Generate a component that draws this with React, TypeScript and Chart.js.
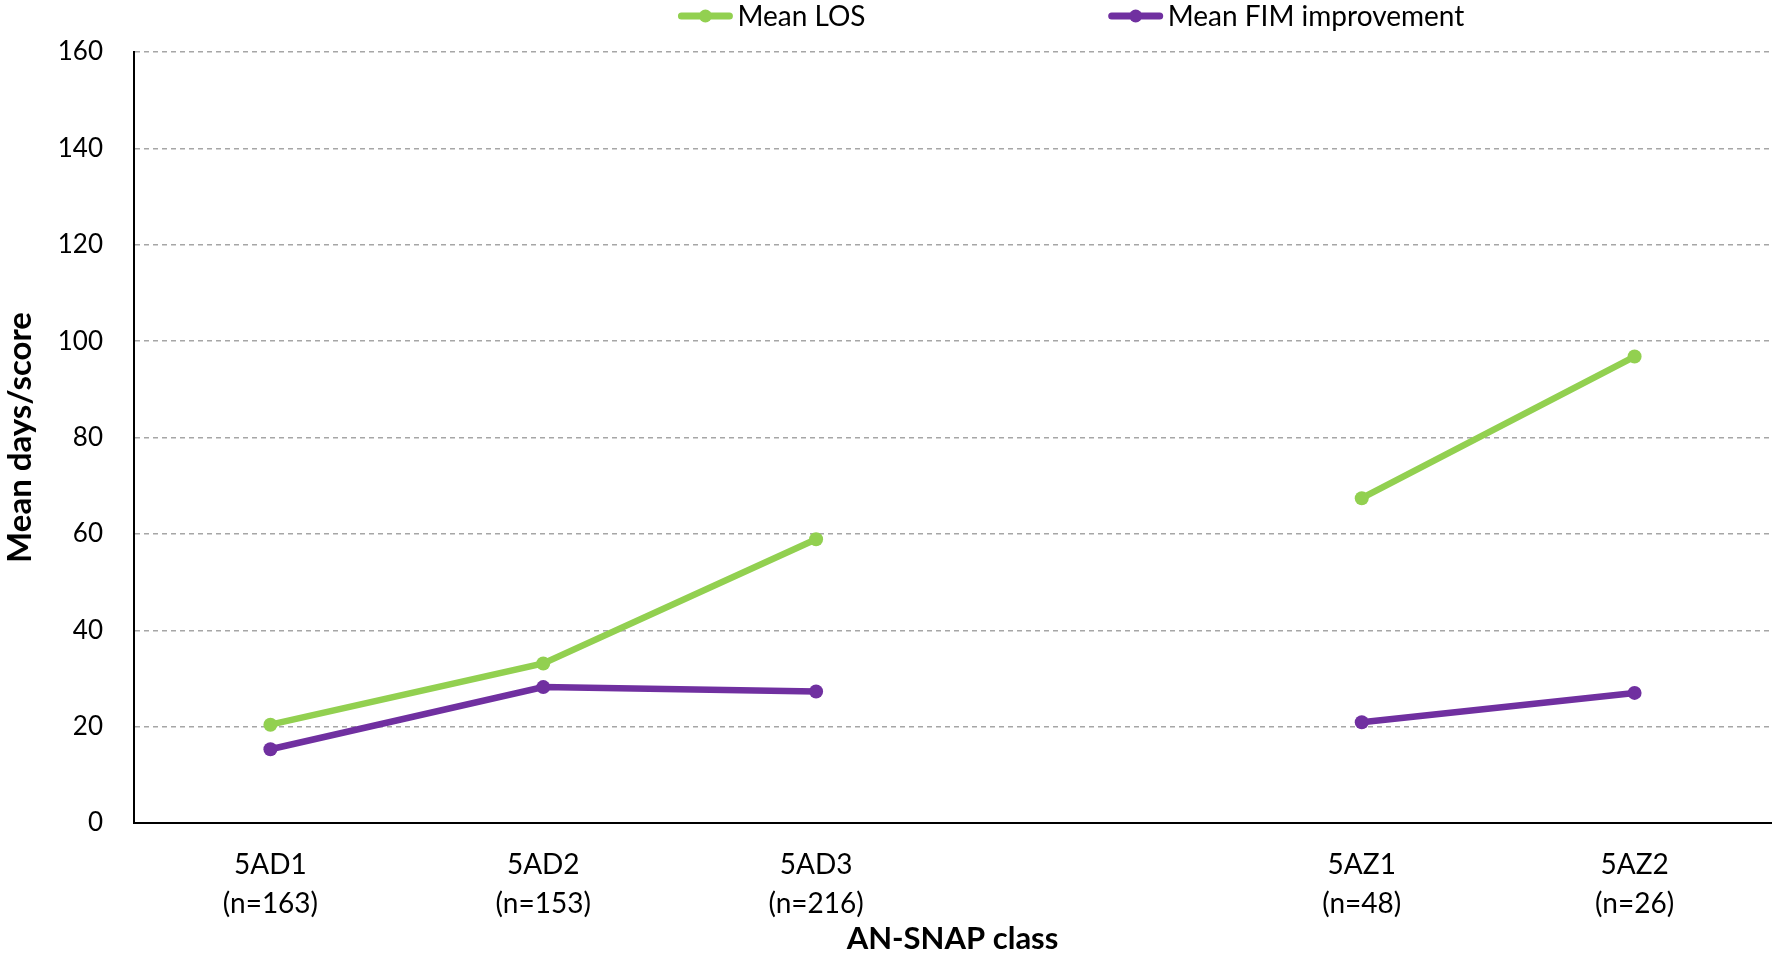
import React, { useEffect, useRef } from 'react';
import { Chart, registerables } from 'chart.js';

Chart.register(...registerables);

const categories: (string | string[])[] = [
  ['5AD1', '(n=163)'],
  ['5AD2', '(n=153)'],
  ['5AD3', '(n=216)'],
  '',
  ['5AZ1', '(n=48)'],
  ['5AZ2', '(n=26)'],
];
const meanLOS: (number | null)[] = [20.4, 33.1, 58.9, null, 67.4, 96.8];
const meanFIM: (number | null)[] = [15.3, 28.2, 27.3, null, 20.9, 27.0];
const seriesLabels = ['Mean LOS', 'Mean FIM improvement'];
const seriesColors = ['#92D050', '#7030A0'];
const yMin = 0;
const yMax = 160;
const yStep = 20;
const xTitle = 'AN-SNAP class';
const yTitle = 'Mean days/score';

const FONT = 'Lato';

const legendPlugin = {
  id: 'customLegend',
  afterDraw(chart: any) {
    const ctx = chart.ctx;
    const W = chart.width;
    const starts = [0.381, 0.623];
    chart.data.datasets.forEach((ds: any, i: number) => {
      const x0 = W * starts[i];
      const y = 16;
      ctx.save();
      ctx.setLineDash([]);
      ctx.strokeStyle = ds.borderColor;
      ctx.lineWidth = 7;
      ctx.lineCap = 'round';
      ctx.beginPath();
      ctx.moveTo(x0 + 4, y);
      ctx.lineTo(x0 + 52, y);
      ctx.stroke();
      ctx.fillStyle = ds.borderColor;
      ctx.beginPath();
      ctx.arc(x0 + 28, y, 6.5, 0, Math.PI * 2);
      ctx.fill();
      ctx.fillStyle = '#000';
      ctx.font = `28px ${FONT}`;
      ctx.textBaseline = 'middle';
      ctx.textAlign = 'left';
      ctx.fillText(ds.label, x0 + 60, y + 1);
      ctx.restore();
    });
  },
};

export default function App() {
  const ref = useRef<HTMLCanvasElement | null>(null);
  useEffect(() => {
    document.body.style.margin = '0';
    if (!ref.current) return;
    const chart = new Chart(ref.current, {
      type: 'line',
      data: {
        labels: categories,
        datasets: [
          {
            label: seriesLabels[0],
            data: meanLOS,
            borderColor: seriesColors[0],
            backgroundColor: seriesColors[0],
            borderWidth: 6.5,
            pointRadius: 7,
            pointBorderWidth: 0,
            pointBackgroundColor: seriesColors[0],
            spanGaps: false,
            tension: 0,
            borderCapStyle: 'round',
          },
          {
            label: seriesLabels[1],
            data: meanFIM,
            borderColor: seriesColors[1],
            backgroundColor: seriesColors[1],
            borderWidth: 6.5,
            pointRadius: 7,
            pointBorderWidth: 0,
            pointBackgroundColor: seriesColors[1],
            spanGaps: false,
            tension: 0,
            borderCapStyle: 'round',
          },
        ],
      },
      options: {
        responsive: true,
        maintainAspectRatio: false,
        animation: false,
        layout: { padding: { top: 52, right: 6, bottom: 0, left: 0 } },
        plugins: {
          legend: { display: false },
          tooltip: { enabled: false },
        },
        scales: {
          x: {
            offset: true,
            grid: { display: false, drawTicks: false },
            border: { display: true, color: '#000', width: 2 },
            ticks: {
              color: '#000',
              font: { family: FONT, size: 28, lineHeight: 1.4 },
              padding: 22,
              maxRotation: 0,
              autoSkip: false,
            },
            title: {
              display: true,
              text: xTitle,
              color: '#000',
              font: { family: FONT, size: 31, weight: 'bold' },
              padding: { top: 0, bottom: 0 },
            },
            afterFit(scale: any) {
              scale.height = 135;
            },
          },
          y: {
            min: yMin,
            max: yMax,
            ticks: {
              stepSize: yStep,
              color: '#000',
              font: { family: FONT, size: 26 },
              padding: 31,
            },
            grid: { color: '#a6a6a6', lineWidth: 1.5, drawTicks: false },
            border: { display: true, color: '#000', width: 2, dash: [5, 4] },
            title: {
              display: true,
              text: yTitle,
              color: '#000',
              font: { family: FONT, size: 33, weight: 'bold' },
              padding: { top: 1, bottom: 0 },
            },
            afterFit(scale: any) {
              scale.width = 134;
            },
          },
        },
      },
      plugins: [legendPlugin],
    } as any);
    return () => chart.destroy();
  }, []);
  return (
    <div style={{ width: 1778, height: 958, position: 'relative' }}>
      <canvas ref={ref} />
    </div>
  );
}
